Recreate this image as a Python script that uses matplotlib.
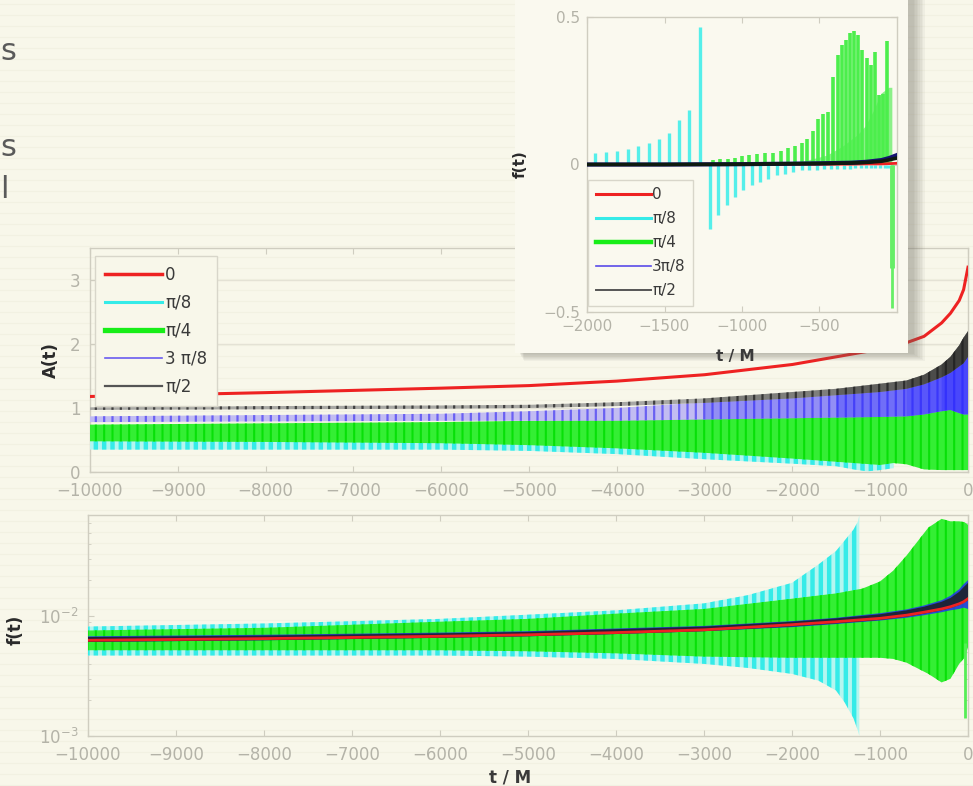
import numpy as np
import matplotlib
matplotlib.use("Agg")
import matplotlib.pyplot as plt
from matplotlib.lines import Line2D
from matplotlib.patches import Rectangle

# ---------------- data ----------------
labels_main = ["0", "\u03c0/8", "\u03c0/4", "3 \u03c0/8", "\u03c0/2"]
labels_inset = ["0", "\u03c0/8", "\u03c0/4", "3\u03c0/8", "\u03c0/2"]

# amplitude A(t)
t_red_a = [-10000, -8000, -6000, -5000, -4000, -3000, -2000, -1500, -1250, -1000, -700, -500, -300, -200, -100, -50, 0]
red_a = [1.18, 1.24, 1.31, 1.35, 1.42, 1.52, 1.68, 1.80, 1.86, 1.92, 2.02, 2.12, 2.33, 2.48, 2.68, 2.85, 3.20]

t_cyan_a = [-10000, -8000, -6000, -5000, -4000, -3000, -2000, -1500, -1300, -1150, -1000, -850]
cyan_a_lo = [0.35, 0.35, 0.35, 0.33, 0.28, 0.20, 0.13, 0.09, 0.04, 0.01, 0.03, 0.06]
cyan_a_hi = [0.72, 0.74, 0.76, 0.77, 0.79, 0.82, 0.87, 0.89, 0.90, 0.90, 0.90, 0.90]

t_green_a = [-10000, -8000, -6000, -5000, -4000, -3000, -2000, -1500, -1000, -850, -700, -500, -300, -100, 0]
green_a_lo = [0.48, 0.47, 0.45, 0.42, 0.37, 0.30, 0.21, 0.16, 0.11, 0.14, 0.12, 0.04, 0.03, 0.03, 0.03]
green_a_hi = [0.74, 0.76, 0.78, 0.80, 0.82, 0.85, 0.90, 0.92, 0.93, 0.93, 0.92, 0.95, 0.97, 0.98, 0.95]

t_bk_a = [-10000, -8000, -6000, -5000, -4000, -3000, -2000, -1500, -1000, -700, -500, -300, -200, -100, -50, 0]
blue_a_lo = [0.78, 0.79, 0.80, 0.80, 0.80, 0.82, 0.84, 0.85, 0.86, 0.87, 0.90, 0.95, 0.97, 0.92, 0.90, 0.90]
blue_a_hi = [0.87, 0.89, 0.91, 0.95, 1.00, 1.09, 1.18, 1.23, 1.29, 1.35, 1.43, 1.53, 1.60, 1.70, 1.78, 1.86]
black_a_lo = [0.97, 0.98, 0.99, 1.00, 1.03, 1.08, 1.15, 1.20, 1.25, 1.30, 1.37, 1.48, 1.55, 1.65, 1.70, 1.80]
black_a_hi = [1.01, 1.03, 1.04, 1.05, 1.09, 1.15, 1.25, 1.30, 1.38, 1.43, 1.52, 1.68, 1.80, 1.98, 2.10, 2.20]

# frequency f(t), log axis
t_f = [-10000, -8000, -6000, -5000, -4000, -3000, -2000, -1500, -1000, -700, -500, -300, -200, -100, -50, 0]
red_f = [0.0063, 0.0065, 0.0068, 0.0070, 0.0073, 0.0077, 0.0085, 0.0090, 0.0096, 0.0102, 0.0108, 0.0115, 0.0120, 0.0127, 0.0132, 0.0140]
black_f_lo = [0.0061, 0.0063, 0.0066, 0.0068, 0.0071, 0.0075, 0.0082, 0.0087, 0.0093, 0.0099, 0.0105, 0.0112, 0.0117, 0.0124, 0.0130, 0.0135]
black_f_hi = [0.0067, 0.0069, 0.0072, 0.0074, 0.0078, 0.0082, 0.0090, 0.0096, 0.0104, 0.0112, 0.0120, 0.0132, 0.0142, 0.0160, 0.0175, 0.0190]
blue_f_lo = [0.0061, 0.0063, 0.0066, 0.0068, 0.0071, 0.0075, 0.0081, 0.0086, 0.0092, 0.0097, 0.0102, 0.0108, 0.0112, 0.0115, 0.0118, 0.0115]
blue_f_hi = [0.0068, 0.0070, 0.0073, 0.0075, 0.0079, 0.0083, 0.0091, 0.0097, 0.0106, 0.0114, 0.0123, 0.0136, 0.0148, 0.0168, 0.0185, 0.0200]

t_cyan_f = [-10000, -8000, -6000, -5000, -4000, -3000, -2500, -2000, -1700, -1500, -1400, -1300, -1250, -1235]
cyan_f_lo = [0.0047, 0.0047, 0.0047, 0.0046, 0.0044, 0.0040, 0.0037, 0.0033, 0.0029, 0.0024, 0.0019, 0.0014, 0.0011, 0.0010]
cyan_f_hi = [0.0082, 0.0087, 0.0095, 0.0103, 0.0112, 0.0128, 0.0150, 0.0190, 0.0270, 0.0350, 0.0430, 0.0530, 0.0620, 0.0700]

t_green_f = [-10000, -8000, -6000, -5000, -4000, -3000, -2000, -1500, -1200, -1000, -850, -700, -450, -300, -200, -100, -40, 0]
green_f_lo = [0.0052, 0.0052, 0.0052, 0.0051, 0.0049, 0.0046, 0.0045, 0.0045, 0.0045, 0.0045, 0.0044, 0.0041, 0.0033, 0.0028, 0.0030, 0.0040, 0.0045, 0.0055]
green_f_hi = [0.0076, 0.0080, 0.0090, 0.0095, 0.0105, 0.0115, 0.0140, 0.0155, 0.0170, 0.0195, 0.0240, 0.0320, 0.0550, 0.0650, 0.0620, 0.0620, 0.0610, 0.0580]
green_f_stem_t = [-35]
green_f_stem_lo = [0.0014]
green_f_stem_hi = [0.0060]

# inset: spikes near merger
cyan_pos_t = [-1948, -1879, -1805, -1734, -1669, -1600, -1535, -1469, -1405, -1340, -1271]
cyan_pos_h = [0.040, 0.042, 0.046, 0.051, 0.063, 0.074, 0.086, 0.108, 0.150, 0.185, 0.466]
cyan_neg_t = [-1206, -1153, -1099, -1045, -992, -937, -884, -830, -776, -723, -669, -615, -565, -515,
              -470, -425, -385, -345, -305, -270, -235, -200, -170, -140, -110, -80, -55, -30]
cyan_neg_h = [-0.218, -0.171, -0.137, -0.110, -0.086, -0.068, -0.058, -0.048, -0.036, -0.031, -0.025, -0.020,
              -0.018, -0.017, -0.016, -0.015, -0.015, -0.014, -0.014, -0.013, -0.013, -0.013, -0.012, -0.012,
              -0.012, -0.012, -0.012, -0.012]
green_sp_t = [-1190, -1140, -1090, -1045, -1002, -953, -905, -852, -798, -750, -701, -658, -615, -582, -544,
              -508, -475, -443, -411, -382, -356, -329, -303, -277, -250, -224, -196, -170, -142, -114, -88, -67]
green_sp_h = [0.015, 0.017, 0.019, 0.022, 0.029, 0.031, 0.034, 0.038, 0.040, 0.046, 0.057, 0.063, 0.074, 0.086,
              0.114, 0.154, 0.171, 0.177, 0.297, 0.371, 0.405, 0.423, 0.445, 0.451, 0.440, 0.388, 0.360, 0.337,
              0.383, 0.234, 0.240, 0.417]
green_fill_t = [-600, -450, -350, -250, -200, -150, -100, -50, -30]
green_fill_h = [0.01, 0.03, 0.06, 0.10, 0.13, 0.18, 0.24, 0.26, 0.26]
green_neg_t = [-30]
green_neg_h = [-0.485]
green_neg_wide_h = [-0.35]

t_in = [-2000, -1500, -1000, -500, -300, -200, -100, -50, 0]
red_in = [0, 0, 0, 0.001, 0.001, 0.002, 0.002, 0.003, 0.004]
black_in = [0, 0, 0.001, 0.003, 0.005, 0.007, 0.011, 0.016, 0.022]
blue_in = [0, 0, 0.001, 0.004, 0.006, 0.009, 0.015, 0.022, 0.032]

# ---------------- style ----------------
BG = "#f8f7ea"
TICK = "#b4b3a8"
SPINE = "#cfcdc0"
RED = "#ee2222"
CYAN = "#35ebe8"
GREEN = "#18ee18"
BLUE = "#2424ff"
BLACK = "#1e1e1e"

W, H = 973, 786
fig = plt.figure(figsize=(W / 100, H / 100), dpi=100, facecolor=BG)


def fx(px):
    return px / W


def fy(py):
    return 1 - py / H


# faint horizontal stripes of the slide background
for yy in range(4, H, 11):
    fig.add_artist(Line2D([0, 1], [fy(yy), fy(yy)], transform=fig.transFigure,
                          color="#ebe8d6", lw=0.8, alpha=0.4, zorder=-5))

# slide text at the left edge
fig.text(fx(0), fy(52), "s", fontsize=22, color="#5a5a5a", va="center", ha="left")
fig.text(fx(0), fy(148), "s", fontsize=22, color="#5a5a5a", va="center", ha="left")
fig.text(fx(0), fy(190), "l", fontsize=22, color="#5a5a5a", va="center", ha="left")


def style_axes(ax):
    ax.set_facecolor("none")
    for s in ax.spines.values():
        s.set_color(SPINE)
        s.set_linewidth(1.0)
    ax.tick_params(which="both", direction="in", top=True, right=True,
                   color=SPINE, labelcolor=TICK, labelsize=12)
    ax.tick_params(which="major", length=4, pad=7)
    ax.tick_params(which="minor", length=2)


def band(ax, t, lo, hi, face, hatch_col, hlw, z, hatch="||", **kw):
    with plt.rc_context({"hatch.linewidth": hlw}):
        ax.fill_between(t, lo, hi, facecolor=face, edgecolor=hatch_col,
                        hatch=hatch, linewidth=0, zorder=z, **kw)


def darken(ax, t, lo, hi, color, z, thresholds, alpha):
    ta = np.asarray(t)
    for thr in thresholds:
        ax.fill_between(t, lo, hi, where=ta >= thr, facecolor=color,
                        linewidth=0, alpha=alpha, zorder=z)


# ---------------- A(t) ----------------
ax_a = fig.add_axes([fx(90), fy(472), fx(878), 224 / H])
style_axes(ax_a)
ax_a.yaxis.grid(True, color="#e4e2d5", lw=1.0, zorder=0)
ax_a.plot(t_red_a, red_a, color=RED, lw=2.2, zorder=3)
band(ax_a, t_cyan_a, cyan_a_lo, cyan_a_hi, "#b4f6f0", CYAN, 3.2, 3)
band(ax_a, t_green_a, green_a_lo, green_a_hi, "#34ee34", "#08e008", 1.5, 4)
band(ax_a, t_bk_a, blue_a_lo, blue_a_hi, "#c2bcf2", "#6a60f2", 1.6, 5)
darken(ax_a, t_bk_a, blue_a_lo, blue_a_hi, BLUE, 5, [-3000, -1500, -700, -300], 0.3)
band(ax_a, t_bk_a, black_a_lo, black_a_hi, "#a8a8a4", "#404040", 1.6, 6)
darken(ax_a, t_bk_a, black_a_lo, black_a_hi, BLACK, 6, [-3000, -1500, -700, -300], 0.3)
ax_a.set_xlim(-10000, 0)
ax_a.set_ylim(0, 3.5)
ax_a.set_xticks(np.arange(-10000, 1, 1000))
ax_a.set_yticks([0, 1, 2, 3])
ax_a.set_xticklabels([f"\u2212{-v}" if v < 0 else "0" for v in range(-10000, 1, 1000)])
ax_a.set_ylabel("A(t)", fontsize=12, color="#2a2a2a", fontweight="bold")
ax_a.yaxis.set_label_coords(-0.034, 0.5)

handles_main = [
    Line2D([], [], color=RED, lw=2.5),
    Line2D([], [], color=CYAN, lw=2.2),
    Line2D([], [], color=GREEN, lw=3.8),
    Line2D([], [], color="#6a5cf0", lw=1.2),
    Line2D([], [], color="#555555", lw=1.6),
]
leg = ax_a.legend(handles_main, labels_main, loc="upper left", bbox_to_anchor=(0.006, 0.965),
                  borderaxespad=0, frameon=True, fancybox=False, framealpha=1,
                  facecolor=BG, edgecolor="#d8d6ca", fontsize=12, handlelength=3.4,
                  handletextpad=0.2, labelspacing=0.6, borderpad=0.6)
for txt in leg.get_texts():
    txt.set_color("#3a3a3a")
leg.set_zorder(10)

# ---------------- f(t) ----------------
ax_f = fig.add_axes([fx(88), fy(736), fx(880), 221 / H])
style_axes(ax_f)
ax_f.set_yscale("log")
band(ax_f, t_cyan_f, cyan_f_lo, cyan_f_hi, "#b4f6f0", CYAN, 3.2, 3)
band(ax_f, t_green_f, green_f_lo, green_f_hi, "#34ee34", "#08e008", 1.5, 4)
ax_f.vlines(green_f_stem_t, green_f_stem_lo, green_f_stem_hi, color="#55ee55", lw=2, zorder=4)
ax_f.fill_between(t_f, blue_f_lo, blue_f_hi, facecolor=BLUE, alpha=0.8, linewidth=0, zorder=5)
ax_f.fill_between(t_f, black_f_lo, black_f_hi, facecolor=BLACK, alpha=0.85, linewidth=0, zorder=6)
ax_f.plot(t_f, red_f, color=RED, lw=2.0, zorder=7)
ax_f.set_xlim(-10000, 0)
ax_f.set_ylim(1e-3, 0.07)
ax_f.set_xticks(np.arange(-10000, 1, 1000))
ax_f.set_xticklabels([f"\u2212{-v}" if v < 0 else "0" for v in range(-10000, 1, 1000)])
ax_f.set_yticks([1e-3, 1e-2])
ax_f.yaxis.set_minor_formatter(plt.NullFormatter())
ax_f.set_ylabel("f(t)", fontsize=12, color="#2a2a2a", fontweight="bold")
ax_f.yaxis.set_label_coords(-0.072, 0.48)
ax_f.set_xlabel("t / M", fontsize=12, color="#3a3a3a", fontweight="bold")
ax_f.xaxis.set_label_coords(0.48, -0.145)

# ---------------- inset panel with drop shadow ----------------
px0, px1, py1 = 515, 908, 353
for i in range(8, 0, -1):
    fig.add_artist(Rectangle((fx(px0 + 4 + i * 0.6), fy(py1 + i)), fx(px1 - px0 + i), (py1 + i + 5) / H,
                             transform=fig.transFigure, facecolor="#6e6c62",
                             alpha=0.06, edgecolor="none", zorder=2))
fig.add_artist(Rectangle((fx(px0), fy(py1)), fx(px1 - px0), (py1 + 5) / H,
                         transform=fig.transFigure, facecolor="#faf9ef",
                         edgecolor="none", zorder=3))

ax_in = fig.add_axes([fx(587), fy(312), fx(310), 295 / H], zorder=6)
style_axes(ax_in)
ax_in.fill_between(green_fill_t, 0, green_fill_h, facecolor="#66ee66", alpha=0.75, linewidth=0, zorder=2)
ax_in.vlines(cyan_pos_t, 0, cyan_pos_h, color="#55efea", lw=2.4, zorder=3)
ax_in.vlines(cyan_neg_t, 0, cyan_neg_h, color="#55efea", lw=2.4, zorder=3)
ax_in.vlines(green_sp_t, 0, green_sp_h, color="#4cee4c", lw=2.6, zorder=4)
ax_in.vlines(green_neg_t, 0, green_neg_wide_h, color="#66ee66", lw=3.5, zorder=4)
ax_in.vlines(green_neg_t, 0, green_neg_h, color="#66ee66", lw=2.0, zorder=4)
ax_in.plot(t_in, red_in, color=RED, lw=2.0, zorder=5)
ax_in.plot(t_in, blue_in, color="#141470", lw=3.0, zorder=6)
ax_in.plot(t_in, black_in, color="#0e1a10", lw=2.6, zorder=7)
ax_in.set_xlim(-2000, 0)
ax_in.set_ylim(-0.5, 0.5)
ax_in.set_xticks([-2000, -1500, -1000, -500])
ax_in.set_xticklabels(["\u22122000", "\u22121500", "\u22121000", "\u2212500"])
ax_in.set_yticks([-0.5, 0, 0.5])
ax_in.set_yticklabels(["\u22120.5", "0", "0.5"])
ax_in.tick_params(labelsize=11, pad=5)
ax_in.set_ylabel("f(t)", fontsize=11, color="#2a2a2a", fontweight="bold")
ax_in.yaxis.set_label_coords(-0.19, 0.5)
ax_in.set_xlabel("t / M", fontsize=11, color="#3a3a3a", fontweight="bold")
ax_in.xaxis.set_label_coords(0.477, -0.125)

handles_in = [
    Line2D([], [], color=RED, lw=2.2),
    Line2D([], [], color=CYAN, lw=2.2),
    Line2D([], [], color=GREEN, lw=3.2),
    Line2D([], [], color="#5a4ce8", lw=1.2),
    Line2D([], [], color="#555555", lw=1.4),
]
leg2 = ax_in.legend(handles_in, labels_inset, loc="lower left", bbox_to_anchor=(0.003, 0.022),
                    borderaxespad=0, frameon=True, fancybox=False, framealpha=1,
                    facecolor="#faf9ef", edgecolor="#d8d6ca", fontsize=11, handlelength=3.6,
                    handletextpad=0.1, labelspacing=0.58, borderpad=0.5)
for txt in leg2.get_texts():
    txt.set_color("#3a3a3a")
leg2.set_zorder(10)

fig.savefig("out.png", dpi=100, facecolor=BG)
